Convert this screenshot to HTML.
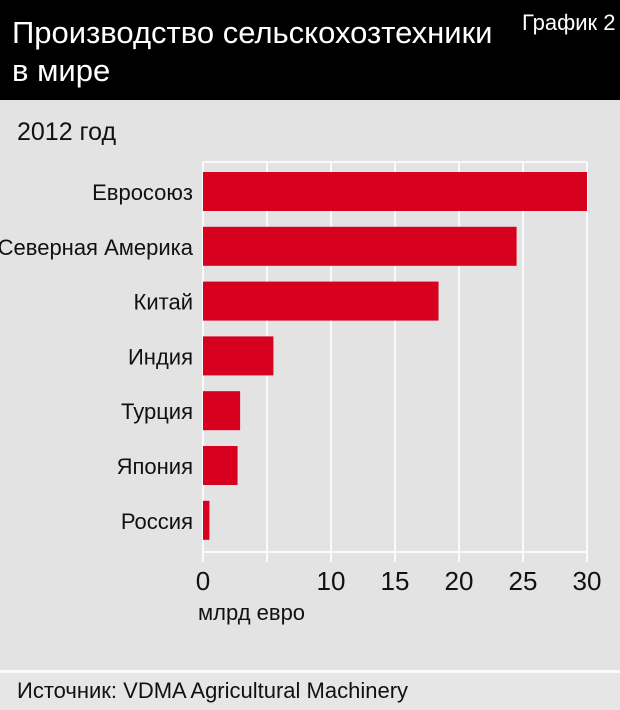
<!DOCTYPE html>
<html><head><meta charset="utf-8"><style>
body{margin:0;width:620px;height:710px;overflow:hidden;background:#e3e3e3;font-family:"Liberation Sans Narrow","Liberation Sans",sans-serif;}
#hdr{position:absolute;left:0;top:0;width:620px;height:100px;background:#000;}
.t{position:absolute;white-space:nowrap;}
svg text{font-family:"Liberation Sans Narrow","Liberation Sans",sans-serif;}
</style></head><body>
<div id="hdr"></div>
<div class="t" style="left:12px;top:14px;color:#fff;font-size:31px;line-height:38px;">Производство сельскохозтехники<br>в мире</div>
<div class="t" style="left:522px;top:10px;color:#fff;font-size:22px;">График 2</div>
<div class="t" style="left:17px;top:118px;color:#111;font-size:25px;">2012 год</div>
<svg id="chart" width="620" height="710" style="position:absolute;left:0;top:0"></svg>
<div style="position:absolute;left:0;top:670px;width:620px;height:3px;background:#fafafa"></div>
<div style="position:absolute;left:0;top:673px;width:620px;height:37px;background:#e6e6e6"></div>
<div class="t" style="left:17px;top:678px;color:#111;font-size:22px;">Источник: VDMA Agricultural Machinery</div>
<script>
const categories=["Евросоюз","Северная Америка","Китай","Индия","Турция","Япония","Россия"];
const values=[30,24.5,18.4,5.5,2.9,2.7,0.5];
const ticks=[0,5,10,15,20,25,30];
const tickLabels=["0","","10","15","20","25","30"];
const NS="http://www.w3.org/2000/svg";
const svg=document.getElementById('chart');
const x0=203,x1=587,yTop=162,yBot=552,bandTop=172,step=54.8,barH=39;
const xs=v=>x0+(v/30)*(x1-x0);
const ys=i=>bandTop+i*step;
function mk(t,a){const e=document.createElementNS(NS,t);for(const k in a)e.setAttribute(k,a[k]);svg.appendChild(e);return e;}
ticks.forEach((t,i)=>{
 const g=mk('line',{x1:xs(t),x2:xs(t),y1:yTop,y2:yBot+10,stroke:'#fafafa','stroke-width':2});
 
 
 if(tickLabels[i]){
  const tx=mk('text',{x:xs(t),y:590,'text-anchor':'middle','font-size':26,fill:'#111'});
  tx.textContent=tickLabels[i];
  
  
 }
});
const tl=mk('line',{x1:x0,x2:x1,y1:yTop,y2:yTop,stroke:'#fafafa','stroke-width':2});


const bl=mk('line',{x1:x0,x2:x1,y1:yBot,y2:yBot,stroke:'#fafafa','stroke-width':2});


categories.forEach((c,i)=>{
 const r=mk('rect',{x:xs(0),y:ys(i),width:xs(values[i])-xs(0),height:barH,fill:'#d7001f'});
 
 
 const t=mk('text',{x:193,y:ys(i)+28,'text-anchor':'end','font-size':22,fill:'#111'});
 t.textContent=c;
 
 
});
const u=mk('text',{x:198,y:620,'font-size':22,fill:'#111'});
u.textContent="млрд евро";


</script>
</body></html>
